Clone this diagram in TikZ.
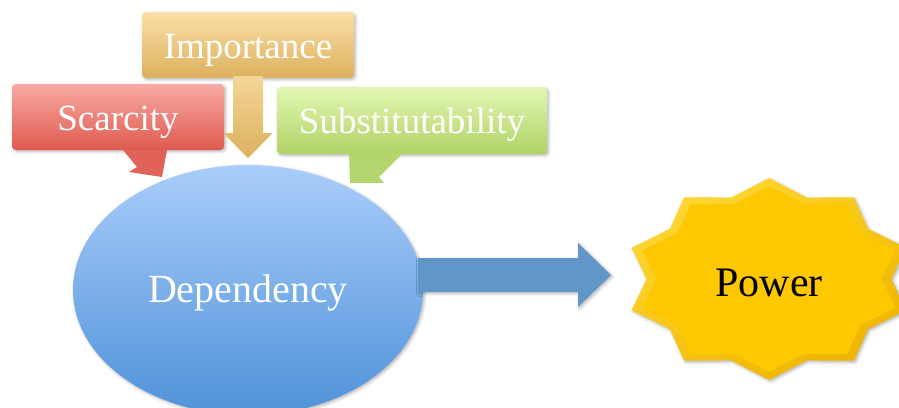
\documentclass[tikz,border=0pt]{standalone}
\usepackage{fontspec}
\setmainfont{Liberation Serif}
\usetikzlibrary{shapes.geometric,shadows.blur,calc}
\definecolor{impTop}{HTML}{FADFA6}
\definecolor{impBot}{HTML}{DCB15E}
\definecolor{scaTop}{HTML}{F9AAA4}
\definecolor{scaBot}{HTML}{DF5A4F}
\definecolor{subTop}{HTML}{E2F8B2}
\definecolor{subBot}{HTML}{B0D266}
\definecolor{depTop}{HTML}{AACDFB}
\definecolor{depBot}{HTML}{4F92D9}
\definecolor{flow}{HTML}{6096C8}
\definecolor{starLight}{HTML}{FFD733}
\definecolor{starDark}{HTML}{EDB500}
\definecolor{starBody}{HTML}{FDC800}
\begin{document}
\begin{tikzpicture}[x=1pt,y=-1pt,
  softshadow/.style={blur shadow={shadow xshift=1.5pt,shadow yshift=-1.5pt,shadow blur radius=3pt,shadow opacity=30}},
  factor/.style={rectangle,rounded corners=4pt,minimum height=66pt,inner sep=0pt,softshadow},
  factortext/.style={text=white,font=\fontsize{37}{40}\selectfont,yshift=-5pt},
  bigtext/.style={font=\fontsize{40}{44}\selectfont},
]
\useasboundingbox (0,0) rectangle (899,407);
\clip (0,0) rectangle (899,407);

% central ellipse
\node[ellipse,minimum width=350pt,minimum height=250pt,inner sep=0pt,
  top color=depTop,bottom color=depBot,softshadow] (dep) at (248,290) {};
\node[bigtext,text=white,yshift=-3pt] (deplabel) at (dep.center) {Dependency};

% callout tails and the importance arrow, behind the boxes
\node[factor,minimum width=212pt,top color=scaTop,bottom color=scaBot] (sca) at (118,117) {};
\fill[scaBot!95!white] (123,150) -- (137,167) -- (129,172) -- (162,177) -- (167,150) -- cycle;

\node[factor,minimum width=270pt,minimum height=67pt,top color=subTop,bottom color=subBot] (sub) at (412,120.5) {};
\fill[subBot!95!white] (349,154) -- (350,183) -- (384,183) -- (379,177) -- (402,154) -- cycle;

\node[factor,minimum width=212pt,top color=impTop,bottom color=impBot] (imp) at (248,45) {};
\shade[top color=impTop!80!impBot,bottom color=impBot]
  ($(imp.south)+(-15,-2)$) -- ($(imp.south)+(-15,55)$) -- ($(imp.south)+(-24.5,55)$)
  -- ($(imp.south)+(0,80)$) -- ($(imp.south)+(24.5,55)$) -- ($(imp.south)+(15,55)$)
  -- ($(imp.south)+(15,-2)$) -- cycle;

% box labels on top
\node[factortext] (implabel) at (imp.center) {Importance};
\node[factortext] (scalabel) at (sca.center) {Scarcity};
\node[factortext,yshift=1pt] (sublabel) at (sub.center) {Substitutability};

% block arrow towards the star
\coordinate (fs) at (418,275);
\coordinate (ft) at (611,275);
\fill[flow,softshadow] ($(fs)+(0,-17)$) -- ($(ft)+(-33,-17)$) -- ($(ft)+(-33,-32)$) -- (ft)
  -- ($(ft)+(-33,32)$) -- ($(ft)+(-33,17)$) -- ($(fs)+(0,17)$) -- cycle;

% bevelled star
\node[star,star points=10,star point ratio=1.18,minimum size=202pt,inner sep=0pt,xscale=1.43,
  shading=axis,top color=starLight,bottom color=starDark,shading angle=30,softshadow] (pow) at (769,279) {};
\node[star,star points=10,star point ratio=1.18,minimum size=186pt,inner sep=0pt,xscale=1.43,
  fill=starBody] (powin) at (pow.center) {};
\node[bigtext,text=black,font=\fontsize{42}{46}\selectfont] (powlabel) at (769,283) {Power};
\end{tikzpicture}
\end{document}
